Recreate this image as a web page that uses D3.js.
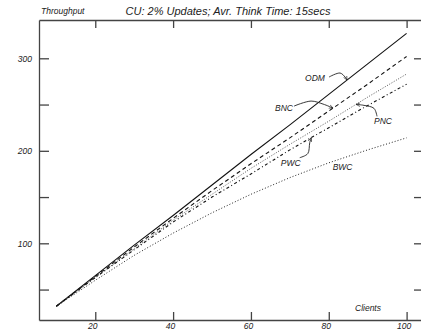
<!DOCTYPE html>
<html>
<head>
<meta charset="utf-8">
<script src="https://cdn.jsdelivr.net/npm/d3@7/dist/d3.min.js"></script>
<style>
  html, body { margin: 0; padding: 0; background: #fff; }
  svg { display: block; }
  text { font-family: "Liberation Sans", Arial, sans-serif; font-style: italic; fill: #222; }
</style>
</head>
<body>
<svg id="chart" width="421" height="330"></svg>
<script>
// Client counts (x) and throughput per protocol (y)
const clients = [10, 20, 30, 40, 50, 60, 70, 80, 90, 100];
const odm = [32, 65, 98, 130, 163, 196, 228, 261, 294, 327];
const bnc = [32, 64, 96, 127, 157, 186, 214, 243, 272, 302];
const pnc = [32, 63, 94, 125, 153, 181, 207, 232, 258, 283];
const pwc = [32, 63, 93, 123, 150, 175, 201, 225, 249, 272];
const bwc = [32, 60, 87, 111, 133, 153, 171, 187, 201, 214];

const seriesNames = ["ODM", "BNC", "PNC", "PWC", "BWC"];
const seriesValues = [odm, bnc, pnc, pwc, bwc];

// Where each label's leader points (client count along its curve)
const labelAt = [84.7, 81.1, 87, 75.5, 81];

const xTicks = [20, 40, 60, 80, 100];
const yTicks = [50, 100, 150, 200, 250, 300];
const yLabelled = [100, 200, 300];

const titleText = "CU: 2% Updates; Avr. Think Time: 15secs";
const yTitle = "Throughput";
const xTitle = "Clients";

// ---- layout ----
const W = 421, H = 330;
const plot = { left: 39, right: 421, top: 20, bottom: 320 };

const x = d3.scaleLinear().domain([5.54, 103.7]).range([plot.left, plot.right]);
const y = d3.scaleLinear().domain([17.1, 341.4]).range([plot.bottom, plot.top]);

const svg = d3.select("#chart");

const styles = {
  ODM: { dash: null, color: "#111", width: 1.1 },
  BNC: { dash: "4,3", color: "#111", width: 1.1 },
  PNC: { dash: "1,1.6", color: "#555", width: 1 },
  PWC: { dash: "3,2.5,1,2.5", color: "#111", width: 1.1 },
  BWC: { dash: "1,2", color: "#222", width: 1 }
};

// ---- axes / frame ----
const axisColor = "#444";
function styleAxis(g) {
  g.selectAll(".domain").attr("stroke", axisColor).attr("stroke-width", 1.3);
  g.selectAll(".tick line").attr("stroke", axisColor).attr("stroke-width", 1.3);
  g.selectAll(".tick text")
    .attr("font-family", "Liberation Sans, Arial, sans-serif")
    .attr("font-style", "italic")
    .attr("font-size", 8.5)
    .attr("fill", "#222");
}

// left
svg.append("g")
  .attr("transform", `translate(${plot.left},0)`)
  .call(d3.axisLeft(y).tickValues(yTicks).tickSize(-10).tickSizeOuter(0)
    .tickPadding(7).tickFormat(d => yLabelled.includes(d) ? d : ""))
  .call(styleAxis)
  .call(g => g.selectAll(".tick text").attr("x", -7));

// bottom
svg.append("g")
  .attr("transform", `translate(0,${plot.bottom})`)
  .call(d3.axisBottom(x).tickValues(xTicks).tickSize(-8).tickSizeOuter(0)
    .tickPadding(4))
  .call(styleAxis)
  .call(g => g.selectAll(".tick text").attr("y", 3).attr("dy", "0.71em").attr("dx", -3));

// top
svg.append("g")
  .attr("transform", `translate(0,${plot.top})`)
  .call(d3.axisTop(x).tickValues(xTicks).tickSize(-8).tickSizeOuter(0).tickFormat(""))
  .call(styleAxis);

// right (ticks only)
svg.append("g")
  .attr("transform", `translate(${plot.right},0)`)
  .call(d3.axisRight(y).tickValues(yTicks).tickSize(-7).tickSizeOuter(0).tickFormat(""))
  .call(styleAxis)
  .call(g => g.select(".domain").remove());

// ---- series ----
const line = d3.line()
  .x((d, i) => x(clients[i]))
  .y(d => y(d));

seriesNames.forEach((name, k) => {
  const s = styles[name];
  svg.append("path")
    .datum(seriesValues[k])
    .attr("fill", "none")
    .attr("stroke", s.color)
    .attr("stroke-width", s.width)
    .attr("stroke-dasharray", s.dash)
    .attr("d", line);
});

// ---- labels with leaders ----
function valueAt(values, c) {
  const i = Math.min(clients.length - 2, Math.max(0, Math.floor((c - clients[0]) / 10)));
  const t = (c - clients[i]) / (clients[i + 1] - clients[i]);
  return values[i] + t * (values[i + 1] - values[i]);
}

// label offset from the leader tip, and leader waypoints relative to the tip
const labelLayout = {
  ODM: { dx: -42, dy: 1, path: [[-18, -3], [-7, -7], [-2, -3], [0, 0]] },
  BNC: { dx: -58, dy: 3, path: [[-39, -2], [-22, -7], [-10, -4], [0, 0]] },
  PNC: { dx: 18, dy: 20, path: [[21, 12], [18, 4], [8, 1], [0, 0]] },
  PWC: { dx: -30.5, dy: 28, path: [[-11.5, 20], [-3.5, 16], [-1.5, 5], [0, 0]] },
  BWC: { dx: 0, dy: 8, path: null }
};

svg.append("defs").append("marker")
  .attr("id", "head")
  .attr("viewBox", "0 0 10 10")
  .attr("refX", 9).attr("refY", 5)
  .attr("markerWidth", 5).attr("markerHeight", 5)
  .attr("orient", "auto")
  .append("path")
  .attr("d", "M0,1 L9,5 L0,9")
  .attr("fill", "none")
  .attr("stroke", "#222")
  .attr("stroke-width", 1.4);

const leader = d3.line().curve(d3.curveCatmullRom.alpha(0.5));

seriesNames.forEach((name, k) => {
  const c = labelAt[k];
  const tx = x(c), ty = y(valueAt(seriesValues[k], c));
  const lay = labelLayout[name];
  if (lay.path) {
    svg.append("path")
      .attr("d", leader(lay.path.map(p => [tx + p[0], ty + p[1]])))
      .attr("fill", "none")
      .attr("stroke", "#222")
      .attr("stroke-width", 0.9)
      .attr("marker-end", "url(#head)");
  }
  svg.append("text")
    .attr("x", tx + lay.dx)
    .attr("y", ty + lay.dy)
    .attr("font-size", 8.5)
    .text(name);
});

// ---- titles ----
svg.append("text")
  .attr("x", 228).attr("y", 15)
  .attr("text-anchor", "middle")
  .attr("font-size", 11)
  .text(titleText);

svg.append("text")
  .attr("x", 41).attr("y", 14)
  .attr("font-size", 8.5)
  .text(yTitle);

svg.append("text")
  .attr("x", 355).attr("y", 311)
  .attr("font-size", 8.5)
  .text(xTitle);
</script>
</body>
</html>
